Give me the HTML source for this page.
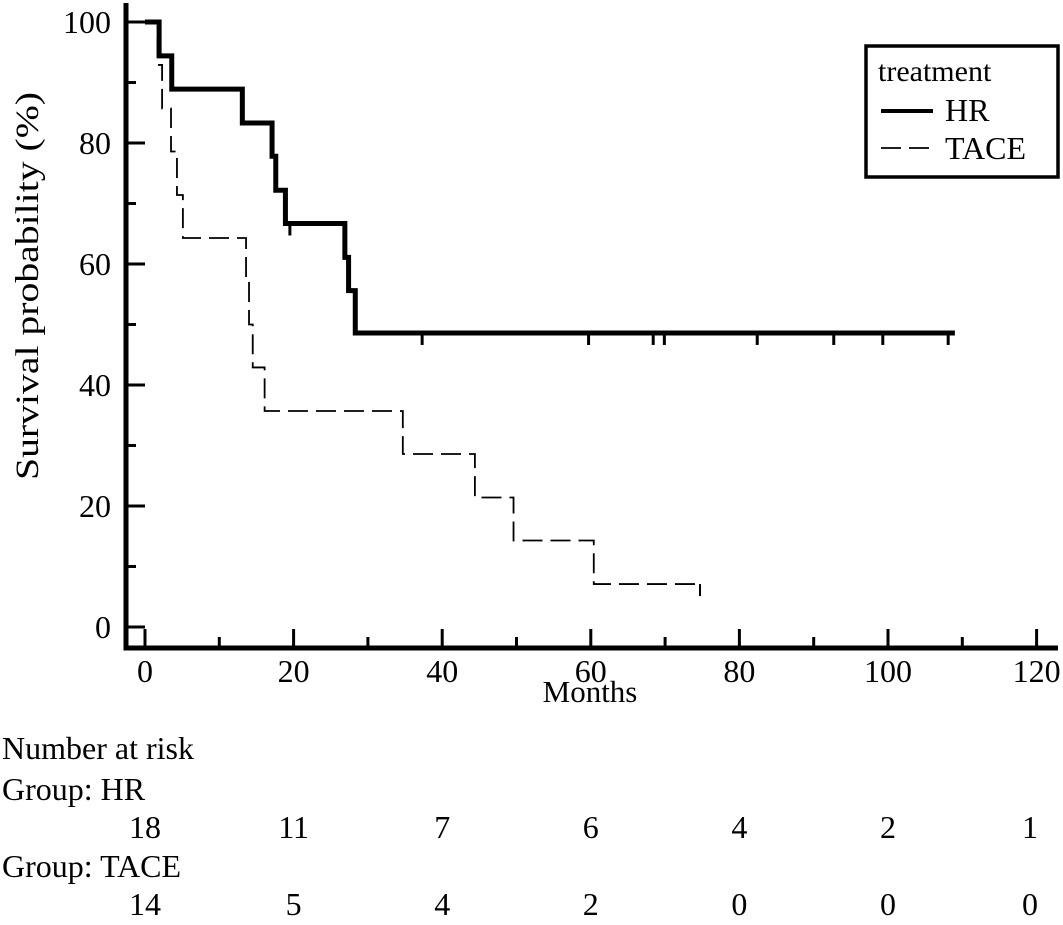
<!DOCTYPE html>
<html><head><meta charset="utf-8"><style>
html,body{margin:0;padding:0;background:#fff}
svg{display:block;font-family:"Liberation Serif",serif}
</style></head><body>
<svg id="chart" width="1063" height="925" viewBox="0 0 1063 925" xmlns="http://www.w3.org/2000/svg">
<g id="axes"></g>
<g id="series"></g>
<g id="legend">
<rect x="866" y="46" width="192" height="131" fill="none" stroke="#000" stroke-width="3.5"/>
<text x="878" y="81" font-size="30">treatment</text>
<line x1="881" y1="111" x2="933" y2="111" stroke="#000" stroke-width="4"/>
<text x="945" y="121" font-size="32">HR</text>
<line x1="881" y1="148" x2="933" y2="148" stroke="#000" stroke-width="1.8" stroke-dasharray="20,8"/>
<text x="945" y="159" font-size="32">TACE</text>
</g>
<text x="38" y="286" font-size="33" text-anchor="middle" textLength="388" lengthAdjust="spacingAndGlyphs" transform="rotate(-90 38 286)">Survival probability (%)</text>
<text x="590" y="702" font-size="31" text-anchor="middle">Months</text>
<g id="risk">
<text x="2" y="759" font-size="32">Number at risk</text>
<text x="2" y="800" font-size="32">Group: HR</text>
<text x="2" y="877" font-size="32">Group: TACE</text>
</g>
</svg>
<script>
const xTicks=[0,20,40,60,80,100,120];
const yTicks=[0,20,40,60,80,100];
const hrTimes=[0,1.9,3.6,13.1,17.1,17.6,18.9,26.9,27.4,28.3,109];
const hrSurv=[100,94.4,88.9,83.3,77.8,72.2,66.7,61.1,55.6,48.6,48.6];
const hrCensor=[19.5,37.3,59.7,68.4,69.9,82.4,92.7,99.3,108.1];
const taceTimes=[0,1.7,2.3,3.5,4.3,5.1,13.6,14.0,14.5,16.1,34.7,44.4,49.6,60.4,74.7];
const taceSurv=[100,92.9,85.7,78.6,71.4,64.3,57.1,50,42.9,35.7,28.6,21.4,14.3,7.1,7.1];
const taceCensor=[74.7];
const riskTimes=[0,20,40,60,80,100,120];
const riskHR=[18,11,7,6,4,2,1];
const riskTACE=[14,5,4,2,0,0,0];

const NS="http://www.w3.org/2000/svg";
const X=t=>145+t*7.43;
const Y=s=>627-s*6.05;
function mk(tag,attrs,parent){const e=document.createElementNS(NS,tag);for(const k in attrs)e.setAttribute(k,attrs[k]);parent.appendChild(e);return e;}
const axes=document.getElementById('axes'),series=document.getElementById('series'),risk=document.getElementById('risk');

let a=mk('path',{d:`M126,3 V648 H1058`,fill:'none',stroke:'#000','stroke-width':5},axes);


for(let t=0;t<=120;t+=10){
  const major=t%20===0;
  let l=mk('line',{x1:X(t),x2:X(t),y1:648,y2:major?629:637,stroke:'#000','stroke-width':3},axes);
  
  
}
xTicks.forEach(t=>{
  let tx=mk('text',{x:X(t),y:682,'font-size':32,'text-anchor':'middle'},axes);tx.textContent=t;
  
  
});
for(let s=0;s<=100;s+=10){
  let l=mk('line',{x1:126,x2:s%20===0?145:136,y1:Y(s),y2:Y(s),stroke:'#000','stroke-width':3},axes);
  
  
}
yTicks.forEach(s=>{
  let tx=mk('text',{x:111,y:Y(s)+11,'font-size':32,'text-anchor':'end'},axes);tx.textContent=s;
  
  
});

function stepPath(ts,ss){
  let d=`M${X(ts[0])},${Y(ss[0])}`;
  for(let i=1;i<ts.length;i++){d+=` H${X(ts[i])} V${Y(ss[i])}`;}
  return d;
}
let hp=mk('path',{d:stepPath(hrTimes,hrSurv),fill:'none',stroke:'#000','stroke-width':5},series);


let tp=mk('path',{d:stepPath(taceTimes,taceSurv),fill:'none',stroke:'#000','stroke-width':1.8,'stroke-dasharray':'20,8'},series);


function survAt(ts,ss,t){let v=ss[0];for(let i=0;i<ts.length;i++){if(ts[i]<=t)v=ss[i];}return v;}
hrCensor.forEach(t=>{
  const y=Y(survAt(hrTimes,hrSurv,t));
  let l=mk('line',{x1:X(t),x2:X(t),y1:y,y2:y+12,stroke:'#000','stroke-width':3},series);
  
  
});
taceCensor.forEach(t=>{
  const y=Y(survAt(taceTimes,taceSurv,t));
  let l=mk('line',{x1:X(t),x2:X(t),y1:y,y2:y+12,stroke:'#000','stroke-width':2},series);
  
  
});

riskTimes.forEach((t,i)=>{
  const x=Math.min(X(t),1030);
  let a1=mk('text',{x:x,y:838,'font-size':32,'text-anchor':'middle'},risk);a1.textContent=riskHR[i];
  
  
  let a2=mk('text',{x:x,y:915,'font-size':32,'text-anchor':'middle'},risk);a2.textContent=riskTACE[i];
  
  
});
</script>
</body></html>
